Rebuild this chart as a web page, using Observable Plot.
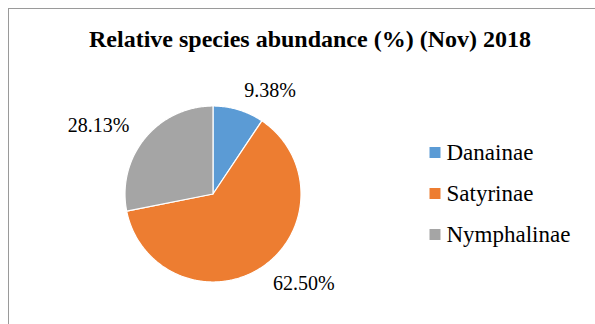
<!DOCTYPE html>
<html>
<head>
<meta charset="utf-8">
<script src="https://cdn.jsdelivr.net/npm/d3@7"></script>
<script src="https://cdn.jsdelivr.net/npm/@observablehq/plot@0.6"></script>
<style>
  html, body { margin: 0; padding: 0; background: #fff; }
  #wrap { position: relative; width: 595px; height: 324px; overflow: hidden; background: #fff; }
  #frame { position: absolute; left: 8px; top: 8px; width: 700px; height: 400px;
           border-left: 1px solid #9a9a9a; border-top: 1px solid #9a9a9a; box-sizing: border-box; }
  #title { position: absolute; left: 0; width: 620px; top: 27px; text-align: center;
           font-family: "Liberation Serif", "Times New Roman", serif; font-weight: bold;
           font-size: 24px; line-height: 24px; color: #000; }
  #chart { position: absolute; left: 0; top: 60px; }
  #chart svg, #chart svg text { font-family: "Liberation Serif", "Times New Roman", serif !important; }
</style>
</head>
<body>
<div id="wrap">
  <div id="frame"></div>
  <div id="title">Relative species abundance (%) (Nov) 2018</div>
  <div id="chart"></div>
</div>
<script>
// ---- data ----
const categories = ["Danainae", "Satyrinae", "Nymphalinae"];
const values = [9.38, 62.50, 28.13];
const valueLabels = ["9.38%", "62.50%", "28.13%"];
const palette = ["#5B9BD5", "#ED7D31", "#A5A5A5"];

// ---- layout (pixels) ----
const W = 595, H = 264;
const CX = 212.5, CY = 133.5, R = 88;
const labelRadius = 1.227;       // in pie radii
const legendSquareX = 434.5, legendTextX = 446, legendTop = 92, legendStep = 41;

const toX = px => (px - CX) / R;
const toY = py => (CY - py) / R;

const rows = categories.map((name, i) => ({name, value: values[i], label: valueLabels[i], index: i}));
const arcs = d3.pie().sort(null).value(d => d.value)(rows);

// polygon points for each slice (unit circle, y up, angle clockwise from top)
const points = [];
for (const a of arcs) {
  points.push({name: a.data.name, x: 0, y: 0});
  const n = Math.max(2, Math.ceil((a.endAngle - a.startAngle) / 0.01));
  for (let k = 0; k <= n; k++) {
    const t = a.startAngle + (a.endAngle - a.startAngle) * k / n;
    points.push({name: a.data.name, x: Math.sin(t), y: Math.cos(t)});
  }
  points.push({name: a.data.name, x: 0, y: 0});
}

const labelPos = arcs.map(a => {
  const m = (a.startAngle + a.endAngle) / 2;
  return {label: a.data.label, x: labelRadius * Math.sin(m), y: labelRadius * Math.cos(m), right: Math.sin(m) >= 0};
});

const serif = '"Liberation Serif", "Times New Roman", serif';

const chart = Plot.plot({
  width: W,
  height: H,
  margin: 0,
  x: {domain: [toX(0), toX(W)], range: [0, W], axis: null},
  y: {domain: [toY(H), toY(0)], range: [H, 0], axis: null},
  color: {domain: categories, range: palette},
  style: {fontFamily: serif, color: "#000", background: "transparent", overflow: "visible"},
  marks: [
    Plot.line(points, {x: "x", y: "y", z: "name", fill: "name", stroke: "#fff", strokeWidth: 1.2, curve: "linear", strokeLinejoin: "round"}),
    Plot.text(labelPos.filter(d => d.right), {x: "x", y: "y", text: "label", textAnchor: "start", fontSize: 20, fontFamily: serif, fill: "#000"}),
    Plot.text(labelPos.filter(d => !d.right), {x: "x", y: "y", text: "label", textAnchor: "end", fontSize: 20, fontFamily: serif, fill: "#000"}),
    Plot.dot(rows, {x: () => toX(legendSquareX), y: d => toY(legendTop + d.index * legendStep), symbol: "square", r: 6.2, fill: "name", stroke: null}),
    Plot.text(rows, {x: () => toX(legendTextX), y: d => toY(legendTop + d.index * legendStep), text: "name", textAnchor: "start", fontSize: 23, fontFamily: serif, fill: "#000"})
  ]
});
document.getElementById("chart").appendChild(chart);
</script>
</body>
</html>
